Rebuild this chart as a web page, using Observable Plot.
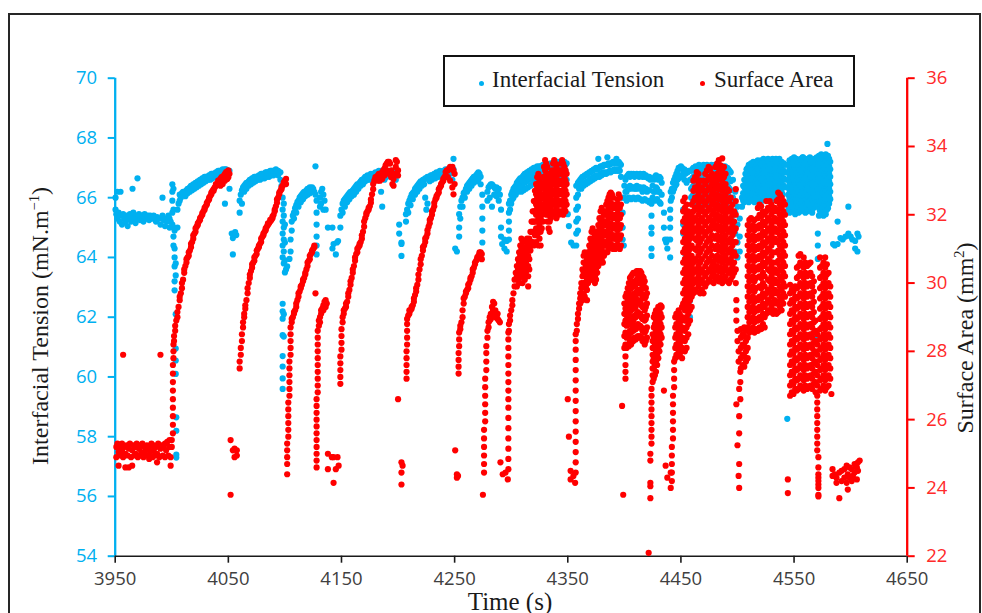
<!DOCTYPE html>
<html><head><meta charset="utf-8">
<script src="https://cdn.jsdelivr.net/npm/d3@7"></script>
<script src="https://cdn.jsdelivr.net/npm/@observablehq/plot@0.6"></script>
<style>
body{margin:0;background:#fff;}
#chart{position:relative;width:982px;height:613px;overflow:hidden;background:#fff;}
#chart svg{position:absolute;left:0;top:0;}
.frame{position:absolute;left:8px;top:13px;width:973px;height:640px;border:2px solid #262626;box-sizing:border-box;}
.title{position:absolute;font-family:"Liberation Serif","Times New Roman",serif;font-size:24px;color:#1a1a1a;white-space:nowrap;line-height:1;}
.rot{transform:translate(-50%,-50%) rotate(-90deg);}
.title sup{font-size:0.6em;vertical-align:0.6em;line-height:0;}
.legend{position:absolute;left:443px;top:55px;width:412px;height:52px;border:2px solid #111;box-sizing:border-box;background:#fff;font-family:"Liberation Serif","Times New Roman",serif;font-size:23px;color:#1a1a1a;}
.legend .dot{position:absolute;width:5px;height:5px;border-radius:50%;}
.legend .lab{position:absolute;top:10px;white-space:nowrap;line-height:1.1;}
</style></head>
<body>
<div id="chart">
  <div class="frame"></div>
</div>
<script>
const BLUE = "#00b0f0", RED = "#ff0000";
const timeTicks = [3950, 4050, 4150, 4250, 4350, 4450, 4550, 4650];
const tensionTicks = [54, 56, 58, 60, 62, 64, 66, 68, 70];
const areaTicks = [22, 24, 26, 28, 30, 32, 34, 36];
const seriesNames = ["Interfacial Tension", "Surface Area"];

// Interfacial tension (mN/m): rows of [time s, observed values...]
const tensionA = [
[3950.3,66.0,65.6],[3951,65.45],[3952,66.2,65.3],[3953,65.5],[3954,65.2],[3954.7,66.2,65.4],[3956,65.1],[3957,65.45],[3958,65.3],[3959,65.2],[3960,65.4],[3961,65.05],[3962,65.3],[3963,65.45],[3964,65.2],[3965.3,66.3,65.35],[3966,65.5],[3967,65.3],[3968,65.15],[3969.7,66.65,65.4],[3970,65.3],[3971,65.45],[3972,65.25],[3973,65.4],[3974,65.3],[3975,65.2],[3976,65.45],[3977,65.35],[3978,65.3],[3979,65.4],[3980,65.25],[3981,65.4],[3982,65.35],[3983,65.3],[3984,65.4],[3985,65.3],[3986,65.2],[3987,65.35],[3988,65.3],[3989,65.3],[3990,65.1],[3991.8,66.0,65.4],[3992,65.3],[3993,65.25],[3994,65.05],[3995,65.3],[3996,65.2],[3997,65.4],[3998,65.0,65.3],[3999,65.2],
[4000.5,65.1,65.5,65.9,66.2,66.45],[4001.5,66.3,65.6,65.0,64.7,64.4],[4002.5,64.9,64.3,64.0,63.7,63.2,62.9],[4003.5,63.8,63.4,62.1,60.95,60.55,60.1],[4004,58.65,58.2,57.4,57.3],
[4005,65.0,65.6],[4006,65.8],[4007,65.9,66.1],[4008,66.0],[4009,66.15],[4010,66.1,66.2],[4011,66.2],[4012,66.2,66.05],[4013,66.25],[4014,66.3,66.15],[4015,66.3],[4016,66.35,66.2],[4017,66.4],[4018,66.4,66.25],[4019,66.45],[4020,66.45,66.3],[4021,66.5],[4022,66.5,66.35],[4023,66.55],[4024,66.55,66.4],[4025,66.6],[4026,66.6,66.45],[4027,66.65],[4028,66.65,66.5],[4029,66.7],[4030,66.7,66.55],[4031,66.7],[4032,66.7,66.6],[4033,66.75],[4034,66.75,66.6],[4035,66.8],[4036,66.8,66.65],[4037,66.8],[4038,66.8,66.7],[4039,66.85],[4040,66.85,66.7],[4041,66.9],[4042,66.9,66.75],[4043,66.9],[4044,66.9,66.75],[4045,66.95],[4046,66.9,66.8],[4047,66.95,65.8],[4048,66.95,66.8],[4049,66.9],[4050,66.9,66.85],[4051,66.9,66.3],
[4053,64.8],[4054,64.1,64.65],[4056,64.85],[4057,64.75],
[4060,65.5,65.9],[4061,66.1],[4062,66.25,65.8],[4063,66.35],[4064,66.4,66.2],[4065,66.45],[4066,66.5,66.3],[4067,66.5],[4068,66.55,66.4],[4069,66.6],[4070,66.6,66.45],[4071,66.65],[4072,66.65,66.5],[4073,66.7],[4074,66.7,66.55],[4075,66.7],[4076,66.7,66.6],[4077,66.75],[4078,66.75,66.6],[4079,66.8],[4080,66.8,66.65],[4081,66.8],[4082,66.8,66.65],[4083,66.85],[4084,66.85,66.7],[4085,66.85],[4086,66.85,66.7],[4087,66.9],[4088,66.9,66.75],[4089,66.9],[4090,66.9,66.75],[4091,66.9],[4092,66.85,66.95],[4093,66.9],[4094,66.9,66.75],[4095,66.85],[4096,66.85,66.6],[4097,66.4],
[4098,66.0,65.6,65.2,64.8,64.4,64.0,62.45,62.2,61.95,61.4,60.7,60.35,59.95,59.6],[4099,65.8,65.4,65.0,64.6,64.2,63.8,62.1,61.35],[4100,65.1,64.5,63.9,63.5]
];
const tensionB = [
[4101,63.6],[4102,63.7],[4104,63.95],[4105,64.2,64.6],[4106,64.9,65.2],[4107,65.4],[4108,65.5,65.3],[4109,65.65],[4110,65.75,65.5],[4111,65.85],[4112,65.9,65.7],[4113,66.0],[4114,66.05,65.85],[4115,66.1],[4116,66.15,65.95],[4117,66.2],[4118,66.2,66.05],[4119,66.25],[4120,66.3,66.1],[4121,66.3],[4122,66.35,66.15],[4123,66.3],[4124,66.35,66.2],[4125,66.3],[4126,66.2],[4127,67.05,66.1],
[4128,65.9,65.5,65.1,64.7,64.4,64.1],
[4131,65.7,66.0],[4132,66.2,65.8],[4133,66.3],[4134,66.1,65.6],[4135,65.9],[4136,65.6],
[4138,65.0],[4142,65.0,64.3],[4143,64.45],[4145,64.1],[4146,64.5],[4147,64.55],
[4149,65.4,65.0],[4150,65.6],[4151,65.8,65.5],[4152,65.9],[4153,65.95,65.7],[4154,66.0],[4155,66.05,65.85],[4156,66.1],[4157,66.15,65.95],[4158,66.2],[4159,66.2,66.05],[4160,66.25],[4161,66.3,66.1],[4162,66.35],[4163,66.4,66.2],[4164,66.45],[4165,66.45,66.3],[4166,66.5],[4167,66.55,66.4],[4168,66.6],[4169,66.6,66.45],[4170,66.65],[4171,66.7,66.55],[4172,66.7],[4173,66.75,66.6],[4174,66.7],[4175,66.75,66.6],[4176,66.8],[4177,66.75,66.65],[4178,66.8],[4179,66.8,66.7],[4180,66.85],[4181,66.8,66.65],[4182,66.85],[4183,66.9,66.7],[4184,66.85],[4185,66.9,66.2],[4186,66.85,65.7],[4187,66.9],[4188,66.95,66.6],[4189,66.9],[4190,66.9,66.7],[4192,66.85],[4194,66.9,66.75],[4196,66.9],[4198,66.85,66.6],[4199,66.8],
[4201,65.1,64.8],[4203,64.5,64.45,64.05],
[4207,65.45,65.2],[4208,65.6],[4209,65.8,65.5],[4210,65.9],[4211,66.0,65.75],[4212,66.1],[4213,66.15,65.95],[4214,66.2],[4215,66.3,66.1],[4216,66.35],[4217,66.4,66.2],[4218,66.45],[4219,66.5,66.3],[4220,66.55],[4221,66.55,66.4],[4222,66.6],[4223,66.6,66.45],[4224,66.65,66.0],[4225,66.65,65.6],[4226,66.7,65.8],[4227,66.7],[4228,66.7,66.55],[4229,66.75],[4230,66.75,66.6],[4232,66.8],[4233,66.8,66.65],[4234,66.85],[4236,66.85,66.7],[4237,66.9],[4238,66.85,66.75],[4240,66.9],[4241,66.9,66.75],[4242,66.95],[4244,66.9,66.8],[4245,66.95],[4246,66.95,66.8],[4247,67.0],[4248,66.9,66.6],[4249,66.95,67.3],
[4250.5,64.3],[4252,64.2],
[4254,65.45,65.0,64.7],[4255,65.7,65.3],[4256,65.9],[4257,66.0,65.7],[4258,66.15],[4259,66.2,66.0],[4260,66.3],[4261,66.4,66.2],[4262,66.45],[4263,66.5,66.3],[4264,66.55],[4265,66.6,66.4],[4266,66.65],[4267,66.7,66.5],[4268,66.7],[4269,66.75,66.55],[4270,66.8],[4271,66.85,66.6],[4272,66.8],[4273,66.7,66.45],
[4274.5,66.1,65.7,65.3,64.9,64.5],
[4279,66.2,65.9],[4280,66.35],[4281,66.4,66.0],[4282,66.45],[4283,66.45,65.7],[4284,66.4],[4285,66.35,66.1],[4286,66.3],[4287,66.35,66.05],[4288,66.25],[4289,66.3,65.9],[4290,66.1],
[4291,65.6,65.0,64.7],[4292,64.45],[4294,64.3,64.6],[4296,64.2,64.55],[4298,65.8,65.5,65.2,64.9,64.6]
];
const tensionC = [
[4299,65.9,65.6],[4300,66.1,65.8],[4301,66.2,65.95],[4302,66.3,66.0],[4303,66.35,66.15],[4304,66.4,66.1],[4305,66.5,66.25],[4306,66.55,66.2],[4307,66.6,66.35],[4308,66.65,66.3],[4309,66.65,66.45,66.2],[4310,66.7,66.4],[4311,66.75,66.55,66.25],[4312,66.8,66.5],[4313,66.8,66.6,66.3],[4314,66.85,66.55],[4315,66.85,66.65,66.35],[4316,66.9,66.6],[4317,66.9,66.7,66.4],[4318,66.95,66.65],[4319,66.95,66.75,66.45],[4320,67.0,66.7],[4321,67.0,66.8,66.5],[4322,67.0,66.75],[4323,67.05,66.8,66.5],[4324,67.0,66.8],[4325,67.05,66.85,66.55],[4326,67.05,66.8],[4327,67.05,66.85,66.6],[4328,67.1,66.85],[4329,67.05,66.9,66.6],[4330,67.05,66.85],[4331,67.1,66.9,66.65],[4332,67.1,66.9],[4333,67.1,66.95,66.65],[4334,67.1,66.9],[4335,67.15,66.95,66.7],[4336,67.1,66.9],[4337,67.15,66.95,66.7],[4338,67.15,66.95],[4339,67.1,66.95,66.7],[4340,67.15,66.9],[4341,67.2,66.95,66.75],[4342,67.15,66.95],[4343,67.2,66.95,66.7],[4344,67.1,66.9],[4345,67.15,66.95,66.7],[4346,67.15,66.9],[4347,67.2,66.95,66.7],[4348,67.1,66.9],[4349,67.15,66.6],
[4350,65.45],[4351,65.05],[4353,64.5],[4355,64.4],[4357.5,66.4,66.0,65.6,65.2,64.8,64.4],[4359,66.5,66.1,65.7,65.3,64.9],
[4360,66.55,66.3],[4361,66.6,66.4],[4362,66.65,66.3],[4363,66.7,66.45],[4364,66.7,66.4],[4365,66.75,66.5],[4366,66.75,66.45],[4367,66.8,66.55],[4368,66.8,66.5],[4369,66.85,66.6],[4370,66.85,66.55],[4371,66.9,66.65],[4372,66.9,66.6],[4373,66.95,66.7],[4374,66.95,66.65],[4375,67.0,66.75],[4376,66.95,66.7],[4377,67.0,67.3,66.75],[4378,67.0,66.7],[4379,67.05,66.8],[4380,67.05,66.75],[4381,67.05,66.85],[4382,67.1,66.8],[4383,67.1,66.85],[4384,67.1,66.8],[4385,67.1,67.35,66.85],[4386,67.15,66.85],[4387,67.1,66.9],[4388,67.15,66.85],[4389,67.15,66.9],[4390,67.2,66.9],[4391,67.15,66.95],[4392,67.2,66.9],[4393,67.2,67.3,66.95],[4394,67.15,66.9],[4395,67.2,66.95],[4396,67.15,66.9],[4397,67.1,66.7],
[4398.5,66.0,65.5,65.0,64.6],[4399.5,64.4],
[4400,66.4,66.0],[4401,66.6,66.2],[4402,66.7,66.2,65.9],[4403,66.75,66.35],[4404,66.8,66.3,66.0],[4405,66.7,66.4],[4406,66.8,66.3,65.95],[4407,66.75,66.35],[4408,66.8,66.35,66.0],[4409,66.7,66.3],[4410,66.75,66.3,65.95],[4411,66.8,66.4],[4412,66.75,66.3,66.0],[4413,66.7,66.35],[4414,66.8,66.35,65.95],[4415,66.75,66.3],[4416,66.7,66.2,65.9],[4417,66.8,66.35],[4418,66.7,66.3,65.95],[4419,66.75,66.3],[4420,66.7,66.2,65.9],[4421,66.65,66.25],[4422,66.7,66.25,65.85],[4423,66.6,65.9],
[4424,65.8,65.4,65.0,64.8,64.3,64.05],
[4425,66.4,66.0],[4426,66.6,66.2],[4427,66.7,66.2,65.9],[4428,66.75,66.35],[4429,66.7,66.3,65.95],[4430,66.6,66.2],[4431,66.7,66.2,65.85],[4432,66.65,65.8],[4433,66.5,66.1],
[4435,65.5,65.0],[4436,64.6],[4437,64.5],[4438,64.6,64.3],[4440.5,64.0,64.6,65.0,65.3,65.6],
[4441,65.9,66.2],[4442,66.3,66.0],[4443,66.5,66.2],[4444,66.6,66.3],[4445,66.7,66.4],[4446,66.8,66.45],[4447,66.9,66.6],[4448,67.0,66.65],[4449,67.0,66.7],[4450,67.05,66.75]
];
const tensionD = [
[4451,67.0,66.7],[4452,65.6,65.1,64.8,66.9],[4453,66.95,66.6],[4454,64.5,64.1,66.8],[4455,66.9,66.5],[4456,63.8,63.45,66.85],[4457,63.1,62.8,66.9],[4458,62.55,62.0,66.6],
[4459,66.9,66.6,66.3,66.0],[4460,66.95,66.65,66.35,66.05,65.8],[4461,67.0,66.7,66.4,66.1],[4462,66.9,66.6,66.3,66.0,65.75],[4463,67.05,66.75,66.45,66.15,65.85],[4464,66.95,66.65,66.35,66.05],[4465,67.0,66.7,66.4,66.1,65.8],[4466,67.1,66.8,66.5,66.2,65.9],[4467,66.95,66.65,66.35,66.05,65.75],[4468,67.05,66.75,66.45,66.15,65.85],[4469,67.0,66.7,66.4,66.1,65.8],[4470,67.1,66.8,66.5,66.2,65.9],[4471,66.95,66.65,66.35,66.05,65.75],[4472,67.05,66.75,66.45,66.15,65.85],[4473,67.1,66.8,66.5,66.2,65.9],[4474,67.0,66.7,66.4,66.1,65.8],[4475,67.05,66.75,66.45,66.15,65.85],[4476,66.95,66.65,66.35,66.05,65.75],[4477,67.1,66.8,66.5,66.2,65.9],[4478,67.0,66.7,66.4,66.1,65.8],[4479,67.05,66.75,66.45,66.15,65.85],[4480,67.1,66.8,66.5,66.2,65.9],[4481,66.95,66.65,66.35,66.05,65.75],[4482,67.05,66.75,66.45,66.15,65.85],[4483,67.0,66.7,66.4,66.1,65.8],[4484,67.1,66.8,66.5,66.2,65.9],[4485,67.05,66.75,66.45,66.15,65.85],[4486,66.95,66.65,66.35,66.05,65.75],[4487,67.05,66.75,66.45,66.15,65.85],[4488,67.0,66.7,66.4,66.1,65.8],[4489,67.05,66.75,66.45,66.15],[4490,66.95,66.65,66.35,66.05,65.75],[4491,67.0,66.7,66.4,66.1],[4492,66.95,66.65,66.35,66.05],[4493,66.9,66.6,66.3,66.0],[4494,66.85,66.55,66.25,65.95],
[4496,66.6,66.0,65.4,64.9],[4498,66.2,65.5,64.8,64.2],[4500,65.7,65.1,64.5,64.0],[4502,65.3,64.7,64.2],
[4504,65.7,66.0],[4505,66.4,66.15,65.9],[4506,66.6,66.35,66.1,65.85],[4507,66.8,66.55,66.3,66.05],[4508,66.95,66.7,66.45,66.2,65.95],
[4509,67.0,66.75,66.5,66.25,66.0],[4510,67.1,66.85,66.6,66.35,66.1,65.85],[4511,67.05,66.8,66.55,66.3,66.05],[4512,67.15,66.9,66.65,66.4,66.15,65.9],[4513,67.1,66.85,66.6,66.35,66.1],[4514,67.2,66.95,66.7,66.45,66.2,65.95],[4515,67.1,66.85,66.6,66.35,66.1,65.85],[4516,67.2,66.95,66.7,66.45,66.2],[4517,67.15,66.9,66.65,66.4,66.15,65.9],[4518,67.25,67.0,66.75,66.5,66.25,66.0],[4519,67.15,66.9,66.65,66.4,66.15,65.9],[4520,67.2,66.95,66.7,66.45,66.2,65.95],[4521,67.25,67.0,66.75,66.5,66.25,66.0],[4522,67.15,66.9,66.65,66.4,66.15,65.9],[4523,67.3,67.05,66.8,66.55,66.3,66.05],[4524,67.2,66.95,66.7,66.45,66.2,65.95],[4525,67.25,67.0,66.75,66.5,66.25,66.0],[4526,67.15,66.9,66.65,66.4,66.15,65.9],[4527,67.3,67.05,66.8,66.55,66.3,66.05],[4528,67.2,66.95,66.7,66.45,66.2,65.95],[4529,67.25,67.0,66.75,66.5,66.25,66.0],[4530,67.15,66.9,66.65,66.4,66.15,65.9],[4531,67.3,67.05,66.8,66.55,66.3,66.05],[4532,67.2,66.95,66.7,66.45,66.2,65.95],[4533,67.25,67.0,66.75,66.5,66.25,66.0],[4534,67.3,67.05,66.8,66.55,66.3,66.05],[4535,67.2,66.95,66.7,66.45,66.2,65.95],[4536,67.25,67.0,66.75,66.5,66.25,66.0],[4537,67.3,67.05,66.8,66.55,66.3],[4538,67.15,66.9,66.65,66.4,66.15,65.9],[4539,67.2,66.95,66.7,66.45,66.2],[4540,67.1,66.85,66.6,66.35,66.1,65.85],[4541,67.15,66.9,66.65,66.4],[4542,67.1,66.85,66.6,66.35],[4544,58.6],
[4545,67.1,66.85,66.6,66.35,66.1,65.85,65.6],[4546,67.25,67.0,66.75,66.5,66.25,66.0,65.75,65.5],[4547,67.2,66.95,66.7,66.45,66.2,65.95,65.7],[4548,67.3,67.05,66.8,66.55,66.3,66.05,65.8,65.55],[4549,67.15,66.9,66.65,66.4,66.15,65.9,65.65],[4550,67.35,67.1,66.85,66.6,66.35,66.1,65.85,65.6],[4551,67.2,66.95,66.7,66.45,66.2,65.95,65.7,65.45],[4552,67.3,67.05,66.8,66.55,66.3,66.05,65.8,65.55],[4553,67.1,66.85,66.6,66.35,66.1,65.85,65.6],[4554,67.25,67.0,66.75,66.5,66.25,66.0,65.75,65.5],[4555,67.15,66.9,66.65,66.4,66.15,65.9,65.65],[4556,67.3,67.05,66.8,66.55,66.3,66.05,65.8,65.55],[4557,67.2,66.95,66.7,66.45,66.2,65.95,65.7],[4557.5,67.35],[4558,67.35,67.1,66.85,66.6,66.35,66.1,65.85,65.6],[4559,67.15,66.9,66.65,66.4,66.15,65.9,65.65],[4560,67.25,67.0,66.75,66.5,66.25,66.0,65.75,65.5],[4561,67.2,66.95,66.7,66.45,66.2,65.95,65.7],[4562,67.3,67.05,66.8,66.55,66.3,66.05,65.8,65.55],[4563,67.1,66.85,66.6,66.35,66.1,65.85,65.6],[4564,67.35,67.1,66.85,66.6,66.35,66.1,65.85,65.6],[4565,67.2,66.95,66.7,66.45,66.2,65.95,65.7],[4566,67.25,67.0,66.75,66.5,66.25,66.0,65.75,65.5],[4567,67.15,66.9,66.65,66.4,66.15,65.9,65.65],[4568,67.3,67.05,66.8,66.55,66.3,66.05,65.8],[4569,67.2,66.95,66.7,66.45,66.2,65.95,61.3],[4570,67.35,67.1,66.85,66.6,66.35,66.1,65.85],[4571,67.25,67.0,66.75,66.5,66.25,66.0,65.75,64.8,64.4,63.95],[4572,67.4,67.15,66.9,66.65,66.4,66.15,65.9,65.65,65.4],[4573,67.3,67.05,66.8,66.55,66.3,66.05,65.8,65.55],[4574,67.45,67.2,66.95,66.7,66.45,66.2,65.95,65.7,65.45],[4575,67.35,67.1,66.85,66.6,66.35,66.1,65.85,65.6],[4576,67.4,67.15,66.9,66.65,66.4,66.15,65.9,65.65,65.4],[4577,67.3,67.05,66.8,66.55,66.3,66.05,65.8,65.55],[4578,67.45,67.2,66.95,66.7,66.45,66.2,65.95,65.7,65.45],[4579,67.35,67.1,66.85,66.6,66.35,66.1,65.85,65.6],[4579.5,67.8],[4580,67.4,67.15,66.9,66.65,66.4,66.15,65.9,65.65],[4581,67.3,67.05,66.8,66.55,66.3,66.05,65.8],[4582,67.2,66.95,66.7,66.45,66.2,65.95],
[4584.5,64.45],[4586,64.4],[4588.5,64.45,65.2],[4591,64.65],[4593,64.6],[4595.5,64.7],[4598,64.8,65.7],[4600,64.7],[4601.5,64.6],[4604,64.55,64.3],[4606,64.8,64.2],[4607,64.7]
];

// Surface area (mm²): rows of [time s, observed values...]
const areaA = [
[3951,25.2,24.9],[3952,25.3],[3953,25.05,24.65],[3954,25.2],[3955,24.95],[3956,25.3,25.1],[3957,24.9,27.9],[3958,25.2],[3959,25.0,24.6],[3960,25.25],[3961,24.95],[3962,25.15,24.6],[3963,25.3],[3964,24.9],[3965,25.1,24.65],[3966,25.25],[3967,24.95],[3968,25.2,25.0],[3969,25.3],[3970,24.9],[3971,25.15],[3972,25.25,24.95],[3973,25.05],[3974,25.3],[3975,24.9],[3976,25.2,25.0],[3977,25.1],[3978,25.25],[3979,24.95],[3980,25.2,24.85],[3981,25.05],[3982,25.3],[3983,24.9],[3984,25.1,25.25],[3985,24.95],[3986,25.2],[3987,25.0,24.75],[3988,25.3],[3989,24.9],[3990,25.15,27.9],[3991,25.25],[3992,24.95],[3993,25.2],[3994,25.3,24.9],[3995,25.1],[3996,25.35],[3997,24.95],[3998,25.2,25.4],[3999,24.9,24.65],[4000,25.2,25.4],
[4001,25.6,25.85,26.1,26.35,26.6,26.85,27.1,27.35,27.6],[4001.5,27.8,28.0,28.2],
[4002,28.3,28.45],[4003,28.6,28.75],[4004,28.9],[4005,29.0,29.15],[4006,29.3],[4007,29.5,29.6],[4008,29.7],[4009,29.85,30.0],[4010,30.1],[4011,30.3,30.4],[4012,30.5],[4013,30.6,30.7],[4014,30.75],[4015,30.8,30.9],[4016,30.95],[4017,31.05,31.15],[4018,31.2],[4019,31.3,31.4],[4020,31.45],[4021,31.5,31.6],[4022,31.65],[4023,31.7,31.75],[4024,31.8],[4025,31.85,31.9],[4026,31.95],[4027,32.0,32.05],[4028,32.1],[4029,32.15,32.2],[4030,32.25],[4031,32.3,32.35],[4032,32.4],[4033,32.45,32.5],[4034,32.55],[4035,32.6,32.65],[4036,32.7],[4037,32.7,32.75],[4038,32.8],[4039,32.85,32.9],[4040,32.9],[4041,32.95,33.0],[4042,33.0],[4043,33.05,32.85],[4044,33.1],[4045,33.1,32.9],[4046,33.15],[4047,33.2,33.0],[4048,33.25],[4049,33.25,33.05],[4050,33.3,33.1],[4051,33.2],
[4052,25.4,23.8],[4054,25.1],[4055.5,24.9,25.15],[4057.5,25.1,24.95],
[4060,27.5,27.7],[4061,27.9,28.1],[4062,28.3,28.5],[4063,28.7,28.85],[4064,29.0,29.1],[4065,29.25,29.35],[4066,29.5],[4067,29.7,29.85],[4068,30.0],[4069,30.15,30.25],[4070,30.35],[4071,30.45,30.55],[4072,30.6],[4073,30.65,30.75],[4074,30.8],[4075,30.85,30.95],[4076,31.0],[4077,31.05,31.1],[4078,31.15],[4079,31.2,31.3],[4080,31.35],[4081,31.4,31.45],[4082,31.5],[4083,31.55,31.6],[4084,31.65],[4085,31.7,31.75],[4086,31.75],[4087,31.8,31.85],[4088,31.85],[4089,31.9,31.95],[4090,32.0],[4091,32.1,32.15],[4092,32.25],[4093,32.35,32.45],[4094,32.5],[4095,32.6,32.65],[4096,32.7],[4097,32.75,32.8],[4098,32.85],[4099,32.9,32.95],[4100,33.0],[4101,33.05,32.9]
];
const areaB = [
[4102,24.9,24.4,24.7,25.1,25.3],[4103,25.5,25.7,25.9,26.1,26.3,26.5],[4104,26.7,26.9,27.1,27.3,27.5,27.7],[4105,27.9,28.1,28.3,28.5,28.7],
[4106,28.85,28.95],[4107,29.0],[4108,29.1,29.15],[4109,29.2],[4110,29.3,29.4],[4111,29.5],[4112,29.6,29.7],[4113,29.75],[4114,29.85,29.9],[4115,29.95],[4116,30.05,30.1],[4117,30.15],[4118,30.25,30.3],[4119,30.4],[4120,30.5,30.6],[4121,30.65],[4122,30.7,30.8],[4123,30.85],[4124,30.9,30.95],[4125,31.0],[4126,31.05,31.1],[4127,29.7],
[4128,24.6,24.8,25.0,25.2,25.4,25.6,25.8,26.0,26.2,26.4,26.6],[4129,26.8,27.0,27.2,27.4,27.6,27.8,28.0,28.2,28.4,28.6],[4130,28.75,28.9],[4131,29.0,28.85],[4132,29.1,29.2],[4133,29.25],[4134,29.35,29.2],[4135,29.45],[4136,29.5,29.3],[4137,29.4],
[4138,25.0,24.55],[4141.5,24.9],[4143,24.15,24.9],[4145,24.55],[4146.5,24.9],[4147.5,24.65],
[4149,27.05,27.25,27.45,27.65,27.85],[4150,28.05,28.25,28.45,28.65],[4151,28.85,29.0],
[4152,29.1,29.2],[4153,29.25],[4154,29.3,29.4],[4155,29.45],[4156,29.6,29.7],[4157,29.8],[4158,29.95,30.05],[4159,30.15],[4160,30.3,30.4],[4161,30.5],[4162,30.65,30.75],[4163,30.85],[4164,30.9,31.0],[4165,31.05],[4166,31.1,31.15],[4167,31.2],[4168,31.3,31.4],[4169,31.5],[4170,31.65,31.8],[4171,31.9],[4172,32.0,32.05],[4173,32.1],[4174,32.15,32.2],[4175,32.25],[4176,32.35,32.45],[4177,32.6],[4178,32.75,32.9],[4179,33.0],[4180,33.05,33.1],[4181,33.1],[4182,33.15,33.0],[4183,33.2],[4184,33.15,33.0],[4185,33.2],[4186,33.25,33.05],[4187,33.3],[4188,33.35,33.15],[4189,33.45],[4190,33.5,33.3],[4191,33.55],[4192,33.55,33.2],[4193,33.5],[4194,33.1,33.3],[4195,32.9],[4196,32.85,33.05],[4197,33.2],[4198,33.4,33.6],[4199,33.55],[4200,33.3,33.15,26.6],
[4203,24.75,24.45,24.1],[4204,24.65],
[4207.5,27.2,27.4,27.6,27.8,28.0],[4208,28.2,28.4,28.6,28.8,28.95],
[4209,29.05],[4210,29.1,29.2],[4211,29.2],[4212,29.25,29.3],[4213,29.35],[4214,29.45,29.55],[4215,29.65],[4216,29.75,29.85],[4217,29.95],[4218,30.1,30.25],[4219,30.4],[4220,30.55,30.7],[4221,30.8],[4222,30.95,31.05],[4223,31.1],[4224,31.2,31.3],[4225,31.35],[4226,31.45,31.55],[4227,31.65],[4228,31.75,31.85],[4229,31.9],[4230,32.0,32.1],[4231,32.15],[4232,32.25,32.35],[4233,32.45],[4234,32.5,32.55],[4235,32.6],[4236,32.65,32.75],[4237,32.8],[4238,32.85,32.9],[4239,32.95],[4240,33.0,33.05],[4241,33.1],[4242,33.15,33.25],[4243,33.3],[4244,33.3,33.1],[4245,33.35],[4246,33.4,33.0],[4247,33.35],[4248,33.4,32.8],[4249,33.3,32.6],[4250,33.2,32.9],
[4250.5,25.1],[4252,24.4,24.3],[4253,24.35],
[4253.5,27.35,27.55,27.75,27.95],[4254,28.15,28.35,28.55],
[4255,28.65,28.75],[4256,28.85],[4257,29.0,29.2],[4258,29.4,29.55],[4259,29.6],[4260,29.7,29.75],[4261,29.8],[4262,29.85,29.95],[4263,30.0],[4264,30.1,30.15],[4265,30.2],[4266,30.3,30.4],[4267,30.45],[4268,30.55,30.6],[4269,30.65],[4270,30.7,30.75],[4271,30.8],[4272,30.85,30.9],[4273,30.9],[4274,30.85,30.7],
[4275,23.8],[4276,24.45,24.7,24.95,25.2,25.45,25.7],[4277,25.95,26.2,26.45,26.7,26.95,27.2],[4278,27.45,27.7,27.95,28.15],
[4279,28.4,28.6],[4280,28.7,28.85],[4281,28.9,29.0],[4282,29.1,28.95],[4283,29.3,29.05],[4284,29.45,29.2],[4285,29.4,29.1],[4286,29.2,29.0],[4287,29.05],[4288,28.95,29.1],[4289,28.9],[4290,28.85],
[4290.5,24.75],[4292.5,24.4],[4295,24.45],[4297,24.25]
];
const areaC = [
[4297.5,24.55,24.85,25.15,25.45,25.75,26.05,26.35,26.6,26.85,27.1,27.35,27.6,27.85,28.1,28.35,28.55],
[4298,28.6,28.8],[4299,28.9,29.05],[4300,29.2],[4301,29.35,29.5],[4302,29.7],[4303,29.9,30.1],[4304,30.3],
[4305,30.5,30.2,29.9],[4306,30.7,30.4,30.1],[4307,30.9,30.6,30.3,30.0],[4308,31.1,30.8,30.5,30.2],[4309,31.3,31.0,30.7,30.4],[4310,31.2,30.9,30.6,30.3,30.0],[4311,31.05,30.75,30.45,30.15],[4312,31.0,30.7,30.4,30.1],[4313,31.2,30.9,30.6,30.3],[4314,31.3,31.0,30.7,30.4],[4315,31.1,30.8,30.5,30.2,29.9],[4316,31.3,31.0,30.7,30.4],[4317,31.5,31.2,30.95],[4318,31.8,31.5,31.2],[4319,32.1,31.8,31.5,31.2],[4320,32.4,32.1,31.8,31.5,31.1],[4321,32.7,32.4,32.1,31.8,31.4],[4322,32.9,32.6,32.3,32.0,31.6,31.2],[4323,33.1,32.8,32.5,32.2,31.8,31.4],[4324,33.2,32.9,32.6,32.3,31.9,31.5,31.1],[4325,33.0,32.7,32.4,32.1,31.7,31.3],[4326,32.8,32.5,32.2,31.9,31.5,31.1],[4327,32.9,32.6,32.3,32.0,31.6],[4328,33.1,32.8,32.5,32.2,31.8],[4329,33.4,33.1,32.8,32.5,32.2],[4330,33.6,33.3,33.0,32.7,32.4,32.1],[4331,33.5,33.2,32.9,32.6,32.3,32.0],[4332,33.4,33.1,32.8,32.5,32.2,31.8],[4333,33.2,32.9,32.6,32.3,32.0,31.6],[4334,33.0,32.7,32.4,32.1,31.8,31.5],[4335,33.1,32.8,32.5,32.2,31.9],[4336,33.3,33.0,32.7,32.4,32.1],[4337,33.5,33.2,32.9,32.6,32.3,32.0],[4338,33.6,33.3,33.0,32.7,32.4,32.1],[4339,33.5,33.2,32.9,32.6,32.3],[4340,33.4,33.1,32.8,32.5,32.2,31.9],[4341,33.3,33.0,32.7,32.4,32.1],[4342,33.2,32.9,32.6,32.3,32.0],[4343,33.3,33.0,32.7,32.4,32.1],[4344,33.5,33.2,32.9,32.6,32.3],[4345,33.6,33.3,33.0,32.7,32.4,32.1],[4346,33.5,33.2,32.9,32.6,32.3,32.0],[4347,33.4,33.1,32.8,32.5,32.2],[4348,33.3,33.0,32.7,32.4,32.1],[4349,33.2,32.9,32.6,32.3],
[4350,26.6],[4351,25.5],[4352.5,24.5,24.25],[4355,24.35],[4356.5,24.15],
[4357,24.45,24.75,25.05,25.35,25.65,25.95,26.25,26.55,26.85,27.15,27.45,27.75,28.05,28.3,28.5],
[4358,28.6,28.8],[4359,28.95,29.1],[4360,29.25,29.4],[4361,29.55,29.7,29.4],[4362,29.85,30.0,29.6],[4363,30.2,30.4,29.9,29.5],[4364,30.6,30.8,30.3,30.0,29.7],[4365,30.9,30.6,30.3,30.0,29.6],[4366,30.85,30.5,30.2,29.9],[4367,30.7,30.4,30.1,29.8,29.5],[4368,30.9,30.6,30.3,30.0],[4369,31.1,30.8,30.5,30.2],[4370,31.3,31.0,30.7,30.4,30.1],[4371,31.5,31.2,30.9,30.6,30.3],[4372,31.6,31.3,31.0,30.7,30.4,30.1],[4373,31.5,31.2,30.9,30.6,30.3],[4374,31.4,31.1,30.8,30.5,30.2,30.0],[4375,31.3,31.0,30.7,30.4,30.1],[4376,31.5,31.2,30.9,30.6,30.3],[4377,31.7,31.4,31.1,30.8,30.5],[4378,31.9,31.6,31.3,31.0,30.7],[4379,32.1,31.8,31.5,31.2,30.9,30.6],[4380,32.2,31.9,31.6,31.3,31.0,30.7],[4381,32.1,31.8,31.5,31.2,30.9,30.6],[4382,32.0,31.7,31.4,31.1,30.8],[4383,32.1,31.8,31.5,31.2,30.9],[4384,32.3,32.0,31.7,31.4,31.1],[4385,32.4,32.1,31.8,31.5,31.2,30.9],[4386,32.5,32.2,31.9,31.6,31.3,31.0],[4387,32.6,32.3,32.0,31.7,31.4,31.1],[4388,32.65,32.35,32.05,31.75,31.45,31.15],[4389,32.6,32.3,32.0,31.7,31.4,31.1],[4390,32.5,32.2,31.9,31.6,31.3,31.0],[4391,32.3,32.0,31.7,31.4,31.1],[4392,32.2,31.9,31.6,31.3,31.0],[4393,32.3,32.0,31.7,31.4,31.1],[4394,32.45,32.15,31.85,31.55,31.25],[4395,32.6,32.3,32.0,31.7,31.4,31.1],[4396,32.5,32.2,31.9,31.6,31.3,31.0],[4397,32.3,32.0,31.7,31.4,31.1],
[4398,26.4],[4399,23.8],
[4400,28.1,28.45,28.8,29.1,29.4],[4401,27.2,27.4,27.6,27.85,28.2,28.55,28.9,29.25,29.6],[4402,28.1,28.4,28.75,29.05,29.4,29.7],[4403,28.2,28.5,28.85,29.2,29.5,29.85],[4404,28.15,28.45,28.8,29.1,29.45,29.75,30.0],[4405,28.3,28.6,28.95,29.3,29.6,29.9,30.15],[4406,28.2,28.55,28.85,29.2,29.5,29.85,30.2],[4407,28.35,28.7,29.0,29.35,29.65,30.0,30.25],[4408,28.3,28.6,28.9,29.25,29.55,29.9,30.3],[4409,28.4,28.75,29.05,29.4,29.7,30.05,30.3],[4410,28.35,28.65,29.0,29.3,29.6,29.95,30.3],[4411,28.4,28.7,29.1,29.45,29.75,30.1,30.35],[4412,28.45,28.8,29.15,29.5,29.8,30.15,30.35],[4413,28.4,28.7,29.05,29.4,29.7,30.0,30.3],[4414,28.45,28.75,29.1,29.45,29.8,30.1,30.35],[4415,28.4,28.7,29.0,29.35,29.7,30.0,30.3],[4416,28.3,28.6,28.95,29.3,29.6,29.9,30.2],[4417,28.35,28.65,29.0,29.35,29.65,29.95,30.15],[4418,28.2,28.55,28.9,29.2,29.55,29.85,30.05],[4419,28.3,28.6,28.95,29.3,29.6,29.85],[4420,28.4,28.7,29.05,29.4,29.7],
[4421.5,22.1],[4423,23.7,24.05,24.15,24.8,25.0],[4424,25.3,25.5,25.7,25.9,26.1,26.3,26.5,26.7,26.9],[4425,27.1,27.3,27.5,27.7,27.9,28.1,28.3,28.5],[4426,27.2,27.5,27.8,28.1,28.4,28.7,29.0],[4427,27.3,27.6,27.9,28.2,28.5,28.8,29.1],[4428,27.4,27.7,28.0,28.3,28.6,28.9,29.2],[4429,27.6,27.9,28.2,28.5,28.8,29.1],[4430,27.8,28.1,28.4,28.7,29.0,29.3],[4431,28.0,28.3,28.6,28.9,29.2],[4432,28.2,28.5,28.8,29.1,29.35],[4433,28.4,28.7,29.0,29.3],
[4435,26.85],[4436.5,24.65],[4438,24.3],[4441,24.45,24.0],[4442,24.2,24.45,24.7,24.95,25.2],[4443,25.45,25.7,25.95,26.2,26.45,26.7],[4444,26.95,27.2,27.45,27.7],
[4445,27.8,28.1,28.4,28.7,29.0],[4446,27.9,28.2,28.5,28.8,29.1],[4447,27.85,28.15,28.45,28.75,29.05],[4448,28.0,28.3,28.6,28.9,29.2],[4449,27.9,28.2,28.5,28.8,29.1],[4450,28.0,28.3,28.6,28.9],[4451,27.8,28.1,28.4,28.7,29.0,29.3]
];
const areaD = [
[4452,29.4,29.7,30.0,30.3,30.6,30.9,31.2,31.5,31.8,32.1,32.4],
[4453.5,28.0,28.3,28.6,28.9,29.2,29.5,29.8,30.1,30.4,30.7,31.0,31.3,31.6,31.9,32.2,32.5],
[4455,28.1,28.4,28.7,29.0,29.3,29.6,29.9,30.2,30.5,30.8,31.1,31.4,31.7,32.0,32.3],
[4456.5,28.5,28.8,29.1,29.4,29.7,30.0,30.3,30.6,30.9,31.2,31.5,31.8,32.1],
[4458,28.9,29.2,29.5,29.8,30.1,30.4,30.7,31.0,31.3,31.6,31.9],
[4459.5,29.3,29.6,29.9,30.2,30.5,30.8,31.1,31.4,31.7,32.0,32.3],
[4461,29.7,30.0,30.3,30.6,31.5,31.8,32.1,32.4,32.7,33.0],
[4462.5,29.8,30.1,30.4,30.7,31.0,31.3,31.6,31.9,32.2,32.5,32.8,33.1],
[4464,29.75,30.05,30.35,30.65,30.95,31.25,31.55,31.85,32.15,32.45,32.75,33.05,33.25],
[4465.5,29.9,30.2,30.5,30.8,31.1,31.4,31.7,32.0,32.3,32.6,32.9,33.2],
[4467,29.7,30.0,30.3,30.6,30.9,31.2,31.5,31.8,32.1,32.4,32.7,33.0],
[4468.5,29.8,30.1,30.4,30.7,31.0,31.3,31.6,31.9,32.2,32.5,32.8],
[4470,29.7,30.0,30.3,31.5,31.8,32.1,32.4,32.7,33.0],
[4471.5,29.9,30.2,30.5,30.8,31.1,31.4,31.7,32.0,32.3,32.6,32.9,33.2],
[4473,30.0,30.3,30.6,30.9,31.2,31.5,31.8,32.1,32.4,32.7,33.0,33.3],
[4474.5,30.1,30.4,30.7,31.0,31.3,31.6,31.9,32.2,32.5,32.8,33.1,33.4],
[4476,30.05,30.35,30.65,30.95,31.25,31.55,31.85,32.15,32.45,32.75,33.05,33.35],
[4477.5,30.2,30.5,30.8,31.1,31.4,31.7,32.0,32.3,32.6,32.9,33.2],
[4479,30.0,30.3,30.6,31.8,32.1,32.4,32.7,33.0],
[4480.5,30.1,30.4,30.7,31.0,31.3,31.6,31.9,32.2,32.5,32.8,33.1,33.4],
[4482,30.2,30.5,30.8,31.1,31.4,31.7,32.0,32.3,32.6,32.9,33.2,33.5],
[4483.5,30.05,30.35,30.65,30.95,31.25,31.55,31.85,32.15,32.45,32.75,33.05,33.35,33.6],
[4485,30.15,30.45,30.75,31.05,31.35,31.65,31.95,32.25,32.55,32.85,33.15,33.45],
[4486.5,30.0,30.3,30.6,30.9,31.2,31.5,31.8,32.1,32.4,32.7,33.0,33.3,33.65],
[4488,30.1,30.4,30.7,31.0,31.3,31.6,31.9,32.2,32.5,32.8,33.1,33.4],
[4489.5,30.2,30.5,30.8,31.1,31.4,31.7,32.0,32.3,32.6,32.9,33.2],
[4491,30.05,30.35,30.65,30.95,31.25,31.55,31.85,32.15,32.45,32.75],
[4492.5,30.0,30.3,30.6,30.9,31.2,31.5,31.8,32.1,32.4,32.7],
[4494,30.1,30.4,30.7,31.0,31.3,31.6,31.9,32.2,32.5],
[4495.5,30.2,30.5,30.8,31.1,31.4,31.7,32.0,32.3],
[4497,30.3,30.6,30.9,31.2,31.5,31.8,32.1],
[4498.5,30.0,30.4,30.8,31.2,31.6,32.0,32.4,32.75],
[4499,29.5,29.2,28.9,26.45],[4500,28.6,28.3,25.25],[4501,28.0,27.7,24.35],[4501.5,24.0,24.7,25.6,26.1,26.9],[4502.5,27.4,27.1,26.6],
[4503,27.5,27.8,28.1,28.4,28.65],[4504.5,27.6,27.9,28.2,28.5],[4506,27.55,27.85,28.15,28.45,28.7],[4507.5,27.7,28.0,28.3,28.6],
[4509,27.8,28.1,28.4,28.7,29.0,29.3,29.6,29.9,30.2,30.5,30.8,31.1,31.4,31.7],
[4510.5,28.55,28.85,29.15,29.45,29.75,30.05,30.35,30.65,30.95,31.25,31.55,31.85],
[4512,28.6,28.9,29.2,29.5,29.8,30.1,30.4,30.7,31.0,31.3,31.6,31.9],
[4513.5,28.7,29.0,29.3,29.6,29.9,30.2,30.5,30.8,31.1,31.4,31.7],
[4515,28.55,28.85,29.15,29.45,29.75,30.05,30.35,30.65,30.95,31.25,31.55,31.85],
[4516.5,28.65,28.95,29.25,29.55,29.85,30.15,30.45,30.75,31.05,31.35,31.65],
[4518,28.6,28.9,29.2,29.5,30.4,30.7,31.0,31.3,31.6,31.9,32.2],
[4519.5,28.7,29.0,29.3,29.6,29.9,30.2,30.5,30.8,31.1,31.4,31.7,32.0,32.3],
[4521,28.65,28.95,29.25,29.55,29.85,30.15,30.45,30.75,31.05,31.35,31.65,31.95,32.25],
[4522.5,28.8,29.1,29.4,29.7,30.0,30.3,30.6,30.9,31.2,31.5,31.8,32.1],
[4524,28.7,29.0,29.3,29.6,29.9,30.2,30.5,30.8,31.1,31.4,31.7,32.0],
[4525.5,29.1,29.4,29.7,30.6,30.9,31.2,31.5,31.8,32.1,32.4],
[4527,29.2,29.5,29.8,30.1,30.4,30.7,31.0,31.3,31.6,31.9,32.2],
[4528.5,29.15,29.45,29.75,30.05,30.35,30.65,30.95,31.25,31.55,31.85,32.15,32.4],
[4530,29.3,29.6,29.9,30.2,30.5,30.8,31.1,31.4,31.7,32.0,32.3],
[4531.5,29.1,29.4,29.7,30.0,30.3,30.6,30.9,31.2,31.5,31.8,32.1],
[4533,29.2,29.5,29.8,30.1,30.4,31.3,31.6,31.9,32.2],
[4534.5,29.1,29.4,29.7,30.0,30.3,30.6,30.9,31.2,31.5,31.8,32.1,32.4],
[4536,29.15,29.45,29.75,30.05,30.35,30.65,30.95,31.25,31.55,31.85,32.15,32.45,32.65],
[4537.5,29.3,29.6,29.9,30.2,30.5,30.8,31.1,31.4,31.7,32.0,32.3,32.6],
[4539,29.2,29.5,29.8,30.1,30.4,30.7,31.0,31.3,31.6,31.9,32.2,32.5],
[4540.5,29.4,29.7,30.0,30.3,30.6,30.9,31.2,31.5,31.8,32.1,32.4],
[4542,29.6,29.9,30.2,30.5,30.8,31.1,31.4,31.7,32.0,32.3],
[4544.5,24.25,23.85],
[4546.5,26.7,27.0,27.3,27.6,27.9,28.2,28.5,28.8,29.1,29.4,29.7,29.95],
[4548,26.8,27.1,27.4,27.7,28.0,28.3,28.6,28.9,29.2,29.5,29.8],
[4549.5,26.75,27.05,27.35,27.65,27.95,28.25,28.55,28.85,29.15,29.45,29.75],
[4551,26.9,27.2,27.5,27.8,28.1,28.4,28.7,29.0,29.3,29.6,29.9],
[4552.5,26.85,27.15,27.45,27.75,28.05,28.35,28.65,28.95,29.25,29.55,29.85,30.15,30.45],
[4554,26.9,27.2,27.5,27.8,28.1,28.4,28.7,29.0,29.3,29.6,29.9,30.2,30.5,30.8],
[4555.5,27.0,27.3,27.6,27.9,28.2,28.5,28.8,29.1,29.4,29.7,30.0,30.3,30.6,30.85],
[4557,26.95,27.25,27.55,27.85,28.15,28.45,28.75,29.05,29.35,29.65,29.95,30.25,30.55],
[4558.5,26.85,27.15,27.45,27.75,28.05,28.35,28.65,28.95,29.25,29.55,29.85,30.15,30.45,30.75],
[4560,27.0,27.3,27.6,27.9,28.2,28.5,28.8,29.1,29.4,29.7,30.0,30.3,30.6],
[4561.5,26.9,27.2,27.5,27.8,28.1,28.4,28.7,29.0,29.3,29.6,29.9,30.2,30.5],
[4563,26.95,27.25,27.55,27.85,28.15,28.45,28.75,29.05,29.35,29.65,29.95,30.25,30.55],
[4564.5,27.0,27.3,27.6,27.9,28.2,28.5,28.8,29.1,29.4,29.7,30.0,30.3,30.6],
[4566,26.9,27.2,27.5,27.8,28.1,28.4,28.7,29.0,29.3,29.6,29.9,30.2],
[4567.5,27.05,27.35,27.65,27.95,28.25,28.55,28.85,29.15,29.45,29.75,30.05],
[4569,26.8,27.1,27.4,27.7,28.0,28.3,28.6,28.9],
[4570.5,26.7,26.5,26.3,26.1,25.9,25.7,25.5,25.3,25.1,27.0,27.3,27.6,27.9,28.2,28.5],
[4571.5,24.9,24.6,24.4,24.2,24.0,23.8,23.75,24.1,24.3],
[4573,26.85,27.15,27.45,27.75,28.05,28.35,28.65,28.95,29.25,29.55,29.85,30.15,30.45,30.75],
[4574.5,26.9,27.2,27.5,27.8,28.1,28.4,28.7,29.0,29.3,29.6,29.9,30.2,30.5],
[4576,27.0,27.3,27.6,27.9,28.2,28.5,28.8,29.1,29.4,29.7,30.0,30.3,30.6],
[4577.5,26.85,27.15,27.45,27.75,28.05,28.35,28.65,28.95,29.25,29.55,29.85,30.15,30.45,30.75],
[4579,26.95,27.25,27.55,27.85,28.15,28.45,28.75,29.05,29.35,29.65,29.95,30.25,30.55],
[4580.5,27.0,27.3,27.6,27.9,28.2,28.5,28.8,29.1,29.4,29.7,30.0,30.3],
[4582,27.2,27.5,27.8,28.1,28.4,28.7,29.0,29.3,29.6,29.9],
[4583,26.75],
[4584,24.55,24.35],[4586,24.4],[4587.5,24.15,24.3],[4590,23.7,24.45],[4592,24.5,24.2],[4594.5,24.3,24.55],[4596.5,24.65,24.15],[4597.5,23.95,24.4],[4599,24.6,24.3],[4601,24.55,24.2],[4602,24.35],[4603.5,24.7,24.45],[4605.5,24.6,24.25],[4606.5,24.75,24.5],[4608,24.8]
];

const flat = rows => rows.flatMap(([t, ...vs]) => vs.map(v => ({t, v})));
const tension = flat([...tensionA, ...tensionB, ...tensionC, ...tensionD]);
const area = flat([...areaA, ...areaB, ...areaC, ...areaD]);

const W = 982, H = 613, ML = 114.7, MR = 75.3, MT = 77.7, MB = 57.3;
const R = 3.1;
const common = {
  width: W, height: H, marginLeft: ML, marginRight: MR, marginTop: MT, marginBottom: MB,
  style: {background: "transparent", fontFamily: "'Open Sans', 'Noto Sans', sans-serif", fontSize: "18.5px", overflow: "visible"}
};
const fmt = d => String(d);

const p1 = Plot.plot({
  ...common,
  x: {domain: [3950, 4650]},
  y: {domain: [54, 70]},
  marks: [
    Plot.dot(tension, {x: "t", y: "v", r: R, fill: BLUE}),
    Plot.ruleX([3950], {stroke: BLUE, strokeWidth: 2.3}),
    Plot.ruleY([54], {stroke: "#1a1a1a", strokeWidth: 1.6}),
    Plot.axisY({anchor: "left", ticks: tensionTicks, tickFormat: fmt, tickSize: 7, tickPadding: 11, strokeWidth: 2, color: BLUE, label: null}),
    Plot.axisX({anchor: "bottom", ticks: timeTicks, tickFormat: fmt, tickSize: 7, tickPadding: 9, strokeWidth: 1.6, stroke: "#1a1a1a", fill: "#404040", label: null})
  ]
});
const p2 = Plot.plot({
  ...common,
  x: {domain: [3950, 4650], axis: null},
  y: {domain: [22, 36]},
  marks: [
    Plot.dot(area, {x: "t", y: "v", r: R, fill: RED}),
    Plot.ruleX([4650], {stroke: RED, strokeWidth: 2.3}),
    Plot.axisY({anchor: "right", ticks: areaTicks, tickFormat: fmt, tickSize: 7, tickPadding: 12, strokeWidth: 2, stroke: RED, fill: "#ff2a2a", label: null})
  ]
});

const chart = document.getElementById("chart");
chart.appendChild(p1);
chart.appendChild(p2);

function addTitle(html, x, y, rotate, size) {
  const d = document.createElement("div");
  d.className = "title" + (rotate ? " rot" : "");
  d.innerHTML = html;
  d.style.left = x + "px";
  d.style.top = y + "px";
  if (size) d.style.fontSize = size + "px";
  if (!rotate) d.style.transform = "translate(-50%,-50%)";
  chart.appendChild(d);
}
addTitle("Interfacial Tension (mN.m<sup>−1</sup>)", 40, 326, true, 24);
addTitle("Surface Area (mm<sup>2</sup>)", 965, 338, true, 24);
addTitle("Time (s)", 510, 601, false, 25);

const lg = document.createElement("div");
lg.className = "legend";
lg.innerHTML =
  `<span class="dot" style="left:34px;top:24px;background:${BLUE}"></span>` +
  `<span class="lab" style="left:47px">${seriesNames[0]}</span>` +
  `<span class="dot" style="left:255px;top:24px;background:${RED}"></span>` +
  `<span class="lab" style="left:269px">${seriesNames[1]}</span>`;
chart.appendChild(lg);
</script>
</body></html>
